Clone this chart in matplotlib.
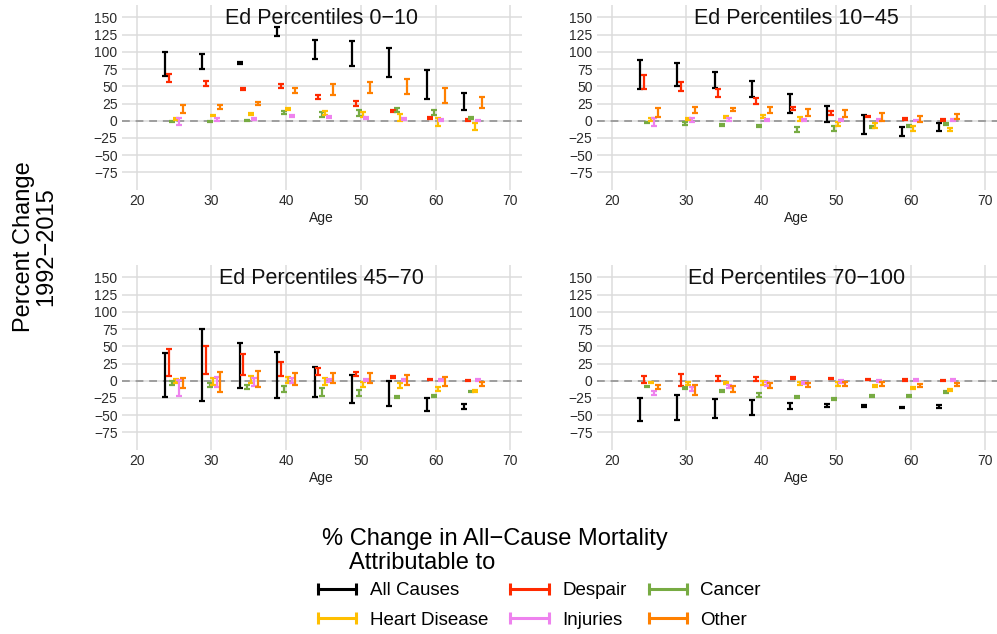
import numpy as np
import matplotlib
matplotlib.use("Agg")
import matplotlib.pyplot as plt
from matplotlib.lines import Line2D
from matplotlib.legend_handler import HandlerLine2D

plt.rcParams["font.family"] = ["Liberation Sans", "DejaVu Sans"]

ages = [25, 30, 35, 40, 45, 50, 55, 60, 65]
causes = ["All Causes", "Despair", "Cancer", "Heart Disease", "Injuries", "Other"]
cause_colors = ["#000000", "#FF2A00", "#77AB43", "#FFBF00", "#EE82EE", "#FF8000"]
panel_titles = ["Ed Percentiles 0−10", "Ed Percentiles 10−45",
                "Ed Percentiles 45−70", "Ed Percentiles 70−100"]

# (low, high) per age group, percent change 1992-2015
# --- Ed percentiles 0-10 ---
p1_all = [(65, 100), (75, 97), (82, 85), (123, 136), (89, 117), (79, 116), (64, 106), (32, 73), (16, 40)]
p1_despair = [(56, 68), (51, 58), (44, 47), (48, 54), (32, 38), (21, 28), (12, 16), (3, 6), (0, 2)]
p1_cancer = [(-1.5, 0), (-2, 0), (0, 1.5), (10, 14), (5, 12), (7, 16), (12, 19), (8, 15), (3, 6)]
p1_heart = [(1, 4), (7, 9), (9, 11), (15.5, 18.5), (8, 14.5), (5, 12.5), (0, 10), (-7, 4.5), (-13.5, -4)]
p1_injuries = [(-6, 3.5), (-1, 4), (1, 4.5), (5, 8), (3.5, 6.5), (2.5, 6), (1, 4.5), (-0.5, 2.5), (-0.5, 1.5)]
p1_other = [(10.5, 23.5), (17.5, 23.5), (23, 26.5), (40.5, 48), (37, 53), (40, 56.5), (39, 60), (25.5, 48), (18.5, 35)]

# --- Ed percentiles 10-45 ---
p2_all = [(46, 88), (50, 84), (47, 70), (34, 58), (10.5, 38.5), (-2, 22), (-19.5, 8), (-22.5, -9.5), (-14.5, -4)]
p2_despair = [(46, 67), (43.5, 56.5), (34, 45.5), (24, 33), (15.5, 20.5), (9, 14), (5, 7.5), (1, 3.5), (0, 2)]
p2_cancer = [(-4, -1.5), (-5.5, -2.5), (-7.5, -4.5), (-9.5, -5.5), (-16, -8.5), (-14.5, -7), (-11, -7.5), (-9.5, -6.5), (-6, -3.5)]
p2_heart = [(0, 3.5), (1, 4), (4, 7.5), (3.5, 8), (-1, 5), (-7.5, -2), (-11, -4), (-15, -7.5), (-14.5, -11)]
p2_injuries = [(-7.5, 4), (-2.5, 3.5), (-0.5, 4), (-0.5, 3), (-1, 3), (-1, 3), (-1, 2), (-1, 1.5), (-0.5, 2.5)]
p2_other = [(6, 18), (10.5, 19.5), (14, 19), (11.5, 20.5), (7, 17), (6, 15.5), (0, 11.5), (-1.5, 7), (2.5, 9.5)]

# --- Ed percentiles 45-70 ---
p3_all = [(-23, 40.5), (-30, 74.5), (-10.5, 54.5), (-24.5, 41.5), (-23, 20), (-32, 8), (-37, -1), (-43.5, -25), (-40.5, -34)]
p3_despair = [(7.5, 45.5), (9.5, 51), (8, 39.5), (7.5, 27), (9, 19), (7, 12.5), (4, 7), (1, 2.5), (0, 1.5)]
p3_cancer = [(-5.5, -1), (-9.5, -3), (-12, -6.5), (-17, -7.5), (-22.5, -11), (-22.5, -13.5), (-24.5, -22), (-23, -21), (-16.5, -14.5)]
p3_heart = [(-3, 3), (-6, 4), (-4, 6.5), (-3, 6), (-6.5, 3.5), (-8.5, -2.5), (-11, -3), (-14.5, -8.5), (-16.5, -13)]
p3_injuries = [(-22.5, 1), (-9.5, 5), (-7.5, 3.5), (-4, 4), (-2.5, 3), (-1, 2), (-1, 2), (-0.5, 2), (-1, 2)]
p3_other = [(-10, 3.5), (-16.5, 12), (-8.5, 14), (-6.5, 10.5), (-4, 10.5), (-4, 10.5), (-5.5, 8.5), (-7.5, 5), (-7, -1.5)]

# --- Ed percentiles 70-100 ---
p4_all = [(-59, -25.5), (-57, -20.5), (-54.5, -26), (-49.5, -27.5), (-41, -32), (-38, -34), (-37.5, -35.5), (-40, -37.5), (-39, -34.5)]
p4_despair = [(-3, 7.5), (-7.5, 9.5), (0, 6.5), (-1, 6), (2.5, 5.5), (2, 4.5), (1, 3), (0, 2), (-0.5, 1.5)]
p4_cancer = [(-9.5, -7), (-12, -8.5), (-16.5, -13.5), (-23, -18.5), (-25, -22.5), (-28.5, -25), (-24, -21), (-23, -20), (-18.5, -15)]
p4_heart = [(-4, -1.5), (-5.5, -2), (-4.5, -1.5), (-6, -0.5), (-6.5, -2.5), (-7, -2.5), (-9, -6), (-12, -8.5), (-15, -11.5)]
p4_injuries = [(-21, -14.5), (-15, -8.5), (-11, -6), (-7.5, -1.5), (-5, -2), (-3, 1), (-2, 1), (-1, 2), (-1, 2)]
p4_other = [(-11.5, -6.5), (-20, -6.5), (-16.5, -7.5), (-10.5, -3.5), (-9, -4), (-7, -2.5), (-7, -2.5), (-8.5, -5), (-8, -3.5)]

panels = [
    [p1_all, p1_despair, p1_cancer, p1_heart, p1_injuries, p1_other],
    [p2_all, p2_despair, p2_cancer, p2_heart, p2_injuries, p2_other],
    [p3_all, p3_despair, p3_cancer, p3_heart, p3_injuries, p3_other],
    [p4_all, p4_despair, p4_cancer, p4_heart, p4_injuries, p4_other],
]

dodge = [-1.2, -0.72, -0.24, 0.24, 0.72, 1.2]

W, H = 997, 634
fig = plt.figure(figsize=(W / 100, H / 100), dpi=100)

ax_w, ax_h = 400, 184.7
lefts = [121.7, 596.7]
tops = [4.95, 264.95]

for k, (title, series) in enumerate(zip(panel_titles, panels)):
    left = lefts[k % 2]
    top = tops[k // 2]
    ax = fig.add_axes([left / W, 1 - (top + ax_h) / H, ax_w / W, ax_h / H])
    ax.axhline(0, color="#9E9E9E", lw=1.4, ls=(0, (4, 3)), zorder=1.5)
    for j, (data, c) in enumerate(zip(series, cause_colors)):
        lo = np.array([d[0] for d in data], dtype=float)
        hi = np.array([d[1] for d in data], dtype=float)
        mid = (lo + hi) / 2
        x = np.array(ages) + dodge[j]
        ax.errorbar(x, mid, yerr=[mid - lo, hi - mid], fmt="none", ecolor=c,
                    elinewidth=1.6, capsize=2.4, capthick=1.6, zorder=3)
    ax.set_xlim(18.0, 71.5)
    ax.set_ylim(-100, 168)
    ax.set_xticks(range(20, 71, 10))
    ax.set_yticks(range(-75, 151, 25))
    ax.grid(True, color="#DCDCDC", lw=1.1)
    ax.set_axisbelow(True)
    for s in ax.spines.values():
        s.set_visible(False)
    ax.tick_params(length=0, pad=3, labelsize=10, labelcolor="#2B2B2B")
    ax.set_xlabel("Age", fontsize=10, labelpad=2, color="#222222")
    ax.text(0.5, 0.897, title, transform=ax.transAxes, ha="center",
            va="baseline", fontsize=15.5, color="#111111")

fig.text(35 / W, 1 - 247 / H, "Percent Change\n1992−2015", rotation=90,
         ha="center", va="center", fontsize=17, linespacing=1.0,
         multialignment="center")

# legend title
fig.text(322 / W, 1 - 539 / H, "% Change in All−Cause Mortality",
         va="center", ha="left", fontsize=17)
fig.text(349 / W, 1 - 563 / H, "Attributable to",
         va="center", ha="left", fontsize=17)

handles = [Line2D([], [], color=c, lw=2.2, marker="|", markersize=8,
                  markeredgewidth=2.2) for c in cause_colors]
# matplotlib fills columns first; reorder so rows read like the reference
order = [0, 3, 1, 4, 2, 5]
leg = fig.legend([handles[i] for i in order], [causes[i] for i in order],
                 ncol=3, loc="upper left", bbox_to_anchor=(318 / W, 1 - 582 / H),
                 frameon=False, fontsize=13.5, handlelength=2.05,
                 handletextpad=0.7, columnspacing=1.2, labelspacing=0.66,
                 borderpad=0, borderaxespad=0,
                 handler_map={Line2D: HandlerLine2D(numpoints=2, marker_pad=0)})

fig.savefig("out.png", dpi=100)
